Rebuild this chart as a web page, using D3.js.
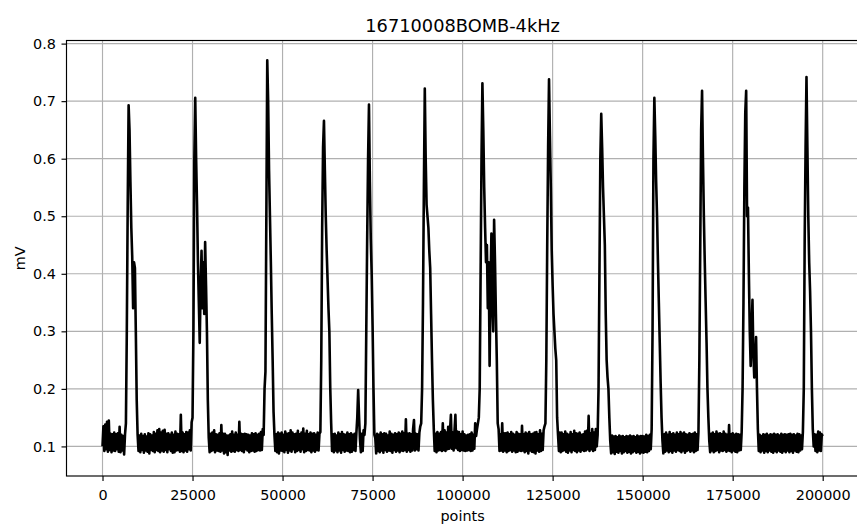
<!DOCTYPE html>
<html>
<head>
<meta charset="utf-8">
<script src="https://cdn.jsdelivr.net/npm/d3@7"></script>
<style>
    body { margin: 0; background: #fff; }
    text { font-family: "DejaVu Sans", sans-serif; }
</style>
</head>
<body>
<div id="chart"></div>
<script>
// Signal sampled every 250 points (values read off the picture, mV)
// one row = 20 samples = 5000 points
const sampleStep = 250;
const mv = [
    0.100, 0.135, 0.092, 0.138, 0.095, 0.143, 0.091, 0.145, 0.094, 0.122, 0.090, 0.121, 0.093, 0.124, 0.092, 0.121, 0.095, 0.123, 0.091, 0.134,
    0.090, 0.120, 0.093, 0.118, 0.086, 0.121, 0.140, 0.300, 0.520, 0.693, 0.650, 0.560, 0.480, 0.430, 0.340, 0.420, 0.410, 0.300, 0.180, 0.120,
    0.092, 0.119, 0.090, 0.122, 0.094, 0.118, 0.089, 0.121, 0.093, 0.117, 0.091, 0.123, 0.088, 0.121, 0.094, 0.119, 0.092, 0.125, 0.090, 0.122,
    0.094, 0.128, 0.092, 0.130, 0.090, 0.124, 0.093, 0.127, 0.091, 0.129, 0.094, 0.122, 0.090, 0.123, 0.095, 0.120, 0.092, 0.124, 0.089, 0.120,
    0.090, 0.126, 0.093, 0.122, 0.094, 0.121, 0.091, 0.155, 0.092, 0.124, 0.090, 0.121, 0.093, 0.125, 0.091, 0.124, 0.095, 0.128, 0.093, 0.142,
    0.150, 0.300, 0.600, 0.706, 0.600, 0.520, 0.420, 0.350, 0.280, 0.380, 0.440, 0.340, 0.420, 0.330, 0.455, 0.380, 0.300, 0.180, 0.115, 0.090,
    0.122, 0.092, 0.124, 0.094, 0.128, 0.090, 0.121, 0.093, 0.120, 0.092, 0.123, 0.091, 0.137, 0.093, 0.122, 0.088, 0.122, 0.090, 0.119, 0.085,
    0.119, 0.093, 0.121, 0.091, 0.126, 0.092, 0.120, 0.091, 0.124, 0.094, 0.120, 0.092, 0.143, 0.094, 0.122, 0.092, 0.121, 0.090, 0.122, 0.095,
    0.121, 0.093, 0.120, 0.090, 0.119, 0.092, 0.123, 0.093, 0.121, 0.091, 0.123, 0.092, 0.120, 0.094, 0.122, 0.093, 0.125, 0.094, 0.130, 0.120,
    0.200, 0.230, 0.500, 0.771, 0.700, 0.580, 0.500, 0.420, 0.330, 0.250, 0.160, 0.120, 0.092, 0.121, 0.090, 0.124, 0.088, 0.122, 0.093, 0.124,
    0.092, 0.120, 0.090, 0.126, 0.094, 0.122, 0.089, 0.123, 0.093, 0.128, 0.091, 0.124, 0.095, 0.121, 0.090, 0.122, 0.092, 0.127, 0.094, 0.121,
    0.091, 0.124, 0.095, 0.131, 0.090, 0.122, 0.092, 0.127, 0.094, 0.121, 0.093, 0.124, 0.090, 0.122, 0.093, 0.123, 0.091, 0.120, 0.094, 0.124,
    0.093, 0.122, 0.125, 0.250, 0.480, 0.620, 0.666, 0.580, 0.500, 0.440, 0.390, 0.340, 0.300, 0.200, 0.140, 0.092, 0.121, 0.090, 0.122, 0.093,
    0.119, 0.090, 0.124, 0.093, 0.121, 0.089, 0.125, 0.094, 0.121, 0.091, 0.120, 0.093, 0.124, 0.092, 0.121, 0.090, 0.123, 0.091, 0.120, 0.094,
    0.122, 0.092, 0.123, 0.150, 0.198, 0.150, 0.112, 0.090, 0.122, 0.092, 0.128, 0.120, 0.140, 0.300, 0.460, 0.600, 0.694, 0.560, 0.460, 0.400,
    0.310, 0.200, 0.120, 0.115, 0.088, 0.122, 0.092, 0.120, 0.090, 0.124, 0.093, 0.121, 0.089, 0.123, 0.094, 0.122, 0.091, 0.119, 0.093, 0.126,
    0.092, 0.122, 0.089, 0.120, 0.094, 0.123, 0.091, 0.121, 0.093, 0.124, 0.090, 0.122, 0.093, 0.126, 0.092, 0.123, 0.094, 0.147, 0.091, 0.122,
    0.094, 0.123, 0.091, 0.121, 0.093, 0.130, 0.146, 0.093, 0.122, 0.095, 0.121, 0.093, 0.124, 0.135, 0.140, 0.200, 0.350, 0.550, 0.722, 0.600,
    0.520, 0.500, 0.480, 0.440, 0.410, 0.330, 0.250, 0.180, 0.130, 0.092, 0.122, 0.090, 0.125, 0.093, 0.122, 0.094, 0.125, 0.092, 0.140, 0.094,
    0.128, 0.092, 0.124, 0.095, 0.134, 0.096, 0.127, 0.155, 0.096, 0.124, 0.093, 0.127, 0.155, 0.097, 0.126, 0.094, 0.125, 0.092, 0.121, 0.094,
    0.126, 0.093, 0.121, 0.092, 0.119, 0.093, 0.120, 0.094, 0.121, 0.092, 0.124, 0.093, 0.120, 0.096, 0.140, 0.118, 0.130, 0.140, 0.150, 0.200,
    0.400, 0.600, 0.731, 0.650, 0.550, 0.480, 0.420, 0.450, 0.340, 0.420, 0.240, 0.380, 0.470, 0.350, 0.300, 0.494, 0.420, 0.330, 0.250, 0.140,
    0.130, 0.092, 0.121, 0.093, 0.140, 0.091, 0.123, 0.093, 0.123, 0.090, 0.124, 0.092, 0.121, 0.094, 0.125, 0.091, 0.122, 0.093, 0.120, 0.090,
    0.125, 0.091, 0.122, 0.093, 0.121, 0.092, 0.136, 0.093, 0.121, 0.090, 0.124, 0.092, 0.122, 0.088, 0.125, 0.093, 0.121, 0.091, 0.122, 0.090,
    0.124, 0.088, 0.125, 0.093, 0.121, 0.091, 0.128, 0.092, 0.122, 0.094, 0.128, 0.135, 0.140, 0.250, 0.450, 0.620, 0.738, 0.640, 0.550, 0.440,
    0.380, 0.330, 0.300, 0.270, 0.250, 0.150, 0.120, 0.092, 0.124, 0.090, 0.124, 0.092, 0.121, 0.094, 0.126, 0.091, 0.122, 0.089, 0.120, 0.093,
    0.125, 0.090, 0.121, 0.094, 0.127, 0.092, 0.123, 0.090, 0.122, 0.093, 0.124, 0.091, 0.120, 0.094, 0.121, 0.092, 0.126, 0.093, 0.127, 0.095,
    0.153, 0.092, 0.123, 0.095, 0.130, 0.092, 0.124, 0.094, 0.130, 0.100, 0.120, 0.200, 0.400, 0.600, 0.678, 0.620, 0.550, 0.500, 0.450, 0.330,
    0.250, 0.220, 0.200, 0.150, 0.110, 0.088, 0.119, 0.090, 0.117, 0.087, 0.118, 0.091, 0.116, 0.089, 0.119, 0.092, 0.117, 0.088, 0.118, 0.090,
    0.116, 0.092, 0.118, 0.089, 0.117, 0.091, 0.119, 0.088, 0.117, 0.090, 0.118, 0.092, 0.116, 0.089, 0.119, 0.091, 0.117, 0.088, 0.118, 0.090,
    0.118, 0.089, 0.117, 0.091, 0.120, 0.090, 0.118, 0.092, 0.120, 0.095, 0.130, 0.300, 0.600, 0.706, 0.640, 0.560, 0.500, 0.420, 0.350, 0.280,
    0.210, 0.150, 0.110, 0.088, 0.121, 0.091, 0.124, 0.093, 0.120, 0.090, 0.125, 0.092, 0.121, 0.089, 0.123, 0.093, 0.120, 0.091, 0.124, 0.094,
    0.121, 0.092, 0.125, 0.090, 0.122, 0.093, 0.124, 0.089, 0.121, 0.092, 0.120, 0.094, 0.123, 0.091, 0.121, 0.093, 0.122, 0.090, 0.124, 0.092,
    0.121, 0.094, 0.125, 0.250, 0.450, 0.650, 0.718, 0.600, 0.500, 0.420, 0.350, 0.280, 0.200, 0.150, 0.110, 0.090, 0.122, 0.093, 0.124, 0.090,
    0.121, 0.092, 0.126, 0.094, 0.122, 0.090, 0.123, 0.093, 0.121, 0.092, 0.126, 0.094, 0.122, 0.091, 0.120, 0.093, 0.137, 0.092, 0.121, 0.090,
    0.123, 0.093, 0.120, 0.091, 0.122, 0.090, 0.121, 0.093, 0.120, 0.094, 0.125, 0.200, 0.350, 0.550, 0.680, 0.718, 0.500, 0.515, 0.400, 0.300,
    0.240, 0.300, 0.355, 0.260, 0.220, 0.250, 0.290, 0.200, 0.130, 0.092, 0.120, 0.090, 0.118, 0.093, 0.121, 0.089, 0.120, 0.092, 0.122, 0.090,
    0.119, 0.093, 0.121, 0.091, 0.120, 0.089, 0.122, 0.092, 0.120, 0.090, 0.121, 0.093, 0.119, 0.091, 0.122, 0.089, 0.120, 0.092, 0.121, 0.090,
    0.120, 0.093, 0.121, 0.090, 0.122, 0.092, 0.120, 0.089, 0.121, 0.093, 0.119, 0.091, 0.122, 0.090, 0.121, 0.093, 0.119, 0.095, 0.125, 0.200,
    0.460, 0.620, 0.742, 0.620, 0.500, 0.420, 0.370, 0.300, 0.200, 0.130, 0.100, 0.121, 0.092, 0.120, 0.090, 0.126, 0.093, 0.124, 0.092, 0.121,
    0.118
];

const xTicks = [0, 25000, 50000, 75000, 100000, 125000, 150000, 175000, 200000];
const yTicks = [0.1, 0.2, 0.3, 0.4, 0.5, 0.6, 0.7, 0.8];
const xLimits = [-10000, 210000];
const yLimits = [0.0486, 0.8054];

const data = mv.map((v, i) => ({ x: i * sampleStep, y: v }));

// Dimensions (right spine falls just outside the picture)
const width = 857;
const height = 527;
const margin = { top: 40.5, left: 66.5, bottom: 476, right: 858.7 };

const svg = d3.select("#chart").append("svg")
    .attr("width", width)
    .attr("height", height)
    .attr("viewBox", [0, 0, width, height]);

svg.append("rect")
    .attr("width", width)
    .attr("height", height)
    .attr("fill", "#fff");

const x = d3.scaleLinear().domain(xLimits).range([margin.left, margin.right]);
const y = d3.scaleLinear().domain(yLimits).range([margin.bottom, margin.top]);

// Grid
svg.append("g")
    .selectAll("line")
    .data(xTicks)
    .join("line")
    .attr("x1", d => x(d))
    .attr("x2", d => x(d))
    .attr("y1", margin.top)
    .attr("y2", margin.bottom)
    .attr("stroke", "#b0b0b0")
    .attr("stroke-width", 1.15);

svg.append("g")
    .selectAll("line")
    .data(yTicks)
    .join("line")
    .attr("x1", margin.left)
    .attr("x2", margin.right)
    .attr("y1", d => y(d))
    .attr("y2", d => y(d))
    .attr("stroke", "#b0b0b0")
    .attr("stroke-width", 1.15);

// Signal
const line = d3.line()
    .x(d => x(d.x))
    .y(d => y(d.y));

svg.append("path")
    .datum(data)
    .attr("fill", "none")
    .attr("stroke", "#000")
    .attr("stroke-width", 2.6)
    .attr("stroke-linejoin", "round")
    .attr("d", line);

// Axes
const xAxis = svg.append("g")
    .attr("transform", `translate(0,${margin.bottom})`)
    .call(d3.axisBottom(x).tickValues(xTicks).tickFormat(d3.format("d")).tickSize(5).tickPadding(8.5).tickSizeOuter(0));

const yAxis = svg.append("g")
    .attr("transform", `translate(${margin.left},0)`)
    .call(d3.axisLeft(y).tickValues(yTicks).tickFormat(d3.format(".1f")).tickSize(5).tickPadding(5.5).tickSizeOuter(0));

[xAxis, yAxis].forEach(a => {
    a.select(".domain").remove();
    a.selectAll(".tick line").attr("stroke", "#000").attr("stroke-width", 1.15);
    a.selectAll(".tick text")
        .attr("fill", "#000")
        .style("font-size", "14.4px")
        .style("font-family", "DejaVu Sans");
});

// Spines
svg.append("rect")
    .attr("x", margin.left)
    .attr("y", margin.top)
    .attr("width", margin.right - margin.left)
    .attr("height", margin.bottom - margin.top)
    .attr("fill", "none")
    .attr("stroke", "#000")
    .attr("stroke-width", 1.15);

// Labels
svg.append("text")
    .attr("x", (margin.left + margin.right) / 2)
    .attr("y", 31.5)
    .attr("text-anchor", "middle")
    .style("font-size", "17.8px")
    .text("16710008BOMB-4kHz");

svg.append("text")
    .attr("x", (margin.left + margin.right) / 2)
    .attr("y", 521)
    .attr("text-anchor", "middle")
    .style("font-size", "14.4px")
    .text("points");

svg.append("text")
    .attr("transform", `translate(25,${(margin.top + margin.bottom) / 2}) rotate(-90)`)
    .attr("text-anchor", "middle")
    .style("font-size", "14.4px")
    .text("mV");
</script>
</body>
</html>
